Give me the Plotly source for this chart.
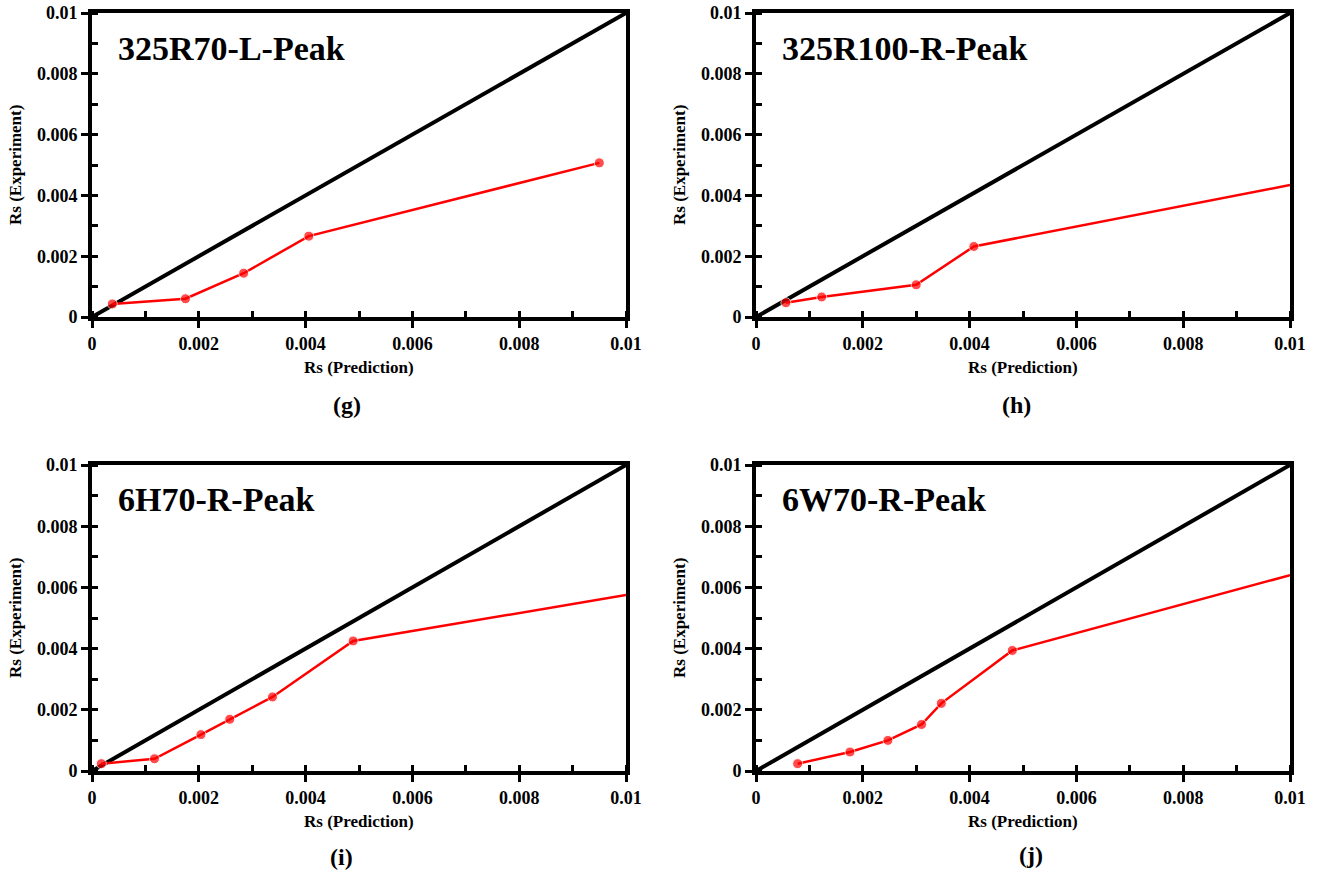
import plotly.graph_objects as go

W, H = 1317, 874

panel_names = ["325R70-L-Peak", "325R100-R-Peak", "6H70-R-Peak", "6W70-R-Peak"]
panel_letters = ["(g)", "(h)", "(i)", "(j)"]

g_pred = [0.00038, 0.00175, 0.00284, 0.00406, 0.0095]
g_exp = [0.00043, 0.00060, 0.00144, 0.00266, 0.00507]

h_pred = [0.00056, 0.00123, 0.00300, 0.00408, 0.0100]
h_exp = [0.00047, 0.00066, 0.00106, 0.00232, 0.00434]

i_pred = [0.000175, 0.00117, 0.00204, 0.00258, 0.00338, 0.00489, 0.0100]
i_exp = [0.00024, 0.00040, 0.00119, 0.00169, 0.00242, 0.00425, 0.00575]

j_pred = [0.00078, 0.00176, 0.00247, 0.00310, 0.00347, 0.00480, 0.0100]
j_exp = [0.00024, 0.00062, 0.00100, 0.00152, 0.00221, 0.00394, 0.00640]

# last point of h, i, j lies on the plot edge (no visible marker)
g_show_last = True
hij_show_last = False

diag_x = [0, 0.01]
diag_y = [0, 0.01]

tick_vals = [0, 0.002, 0.004, 0.006, 0.008, 0.01]
tick_text = ["0", "0.002", "0.004", "0.006", "0.008", "0.01"]

series = [(g_pred, g_exp, g_show_last), (h_pred, h_exp, hij_show_last),
          (i_pred, i_exp, hij_show_last), (j_pred, j_exp, hij_show_last)]

# pixel layout of panels (left, right, top, bottom)
boxes = [(92, 626, 13, 317), (756, 1290, 13, 317), (92, 626, 465, 771), (756, 1290, 465, 771)]
letter_pos = [(347, 405), (1016, 405), (341, 857), (1031, 855)]

FONT = "Liberation Serif"

fig = go.Figure()
layout = dict(
    width=W, height=H,
    margin=dict(l=0, r=0, t=0, b=0),
    paper_bgcolor="white", plot_bgcolor="white",
    showlegend=False,
    font=dict(family=FONT, color="black"),
    annotations=[],
)

for k, ((xs, ys, show_last), (l, r, t, b)) in enumerate(zip(series, boxes)):
    n = k + 1
    xa = "x" if n == 1 else f"x{n}"
    ya = "y" if n == 1 else f"y{n}"
    fig.add_trace(go.Scatter(x=diag_x, y=diag_y, mode="lines", xaxis=xa, yaxis=ya,
                             line=dict(color="black", width=4)))
    sizes = [10] * len(xs)
    if not show_last:
        sizes[-1] = 0
    fig.add_trace(go.Scatter(x=xs, y=ys, mode="lines+markers", xaxis=xa, yaxis=ya,
                             line=dict(color="#ff0000", width=2.5),
                             marker=dict(color="#ff0000", size=sizes,
                                         line=dict(color="white", width=1))))
    axis_common = dict(
        range=[0, 0.01], showgrid=False, zeroline=False,
        showline=True, linecolor="black", linewidth=4, mirror=True,
        ticks="outside", ticklen=7, tickwidth=3, tickcolor="black",
        tickvals=tick_vals, ticktext=tick_text,
        tickfont=dict(family=FONT, size=18, color="black", weight="bold"),
        minor=dict(ticks="inside", ticklen=6, tickwidth=3, tickcolor="black", dtick=0.001),
        automargin=False, fixedrange=True,
    )
    layout["xaxis" if n == 1 else f"xaxis{n}"] = dict(
        axis_common, domain=[l / W, r / W], anchor=ya)
    layout["yaxis" if n == 1 else f"yaxis{n}"] = dict(
        axis_common, domain=[(H - b) / H, (H - t) / H], anchor=xa)

    # panel title
    layout["annotations"].append(dict(
        text=panel_names[k], xref="paper", yref="paper",
        x=(l + 24) / W, y=(H - (t + 35)) / H, xanchor="left", yanchor="middle",
        showarrow=False, font=dict(family=FONT, size=34, color="black", weight="bold")))
    # x axis title
    layout["annotations"].append(dict(
        text="Rs (Prediction)", xref="paper", yref="paper",
        x=((l + r) / 2) / W, y=(H - (b + 50)) / H, xanchor="center", yanchor="middle",
        showarrow=False, font=dict(family=FONT, size=17, color="black", weight="bold")))
    # y axis title
    layout["annotations"].append(dict(
        text="Rs (Experiment)", xref="paper", yref="paper", textangle=-90,
        x=(l - 77) / W, y=(H - (t + b) / 2) / H, xanchor="center", yanchor="middle",
        showarrow=False, font=dict(family=FONT, size=17, color="black", weight="bold")))
    # panel letter
    lx, ly = letter_pos[k]
    layout["annotations"].append(dict(
        text=panel_letters[k], xref="paper", yref="paper",
        x=lx / W, y=(H - ly) / H, xanchor="center", yanchor="middle",
        showarrow=False, font=dict(family=FONT, size=24, color="black", weight="bold")))

fig.update_layout(**layout)
fig.write_html("out.html")
